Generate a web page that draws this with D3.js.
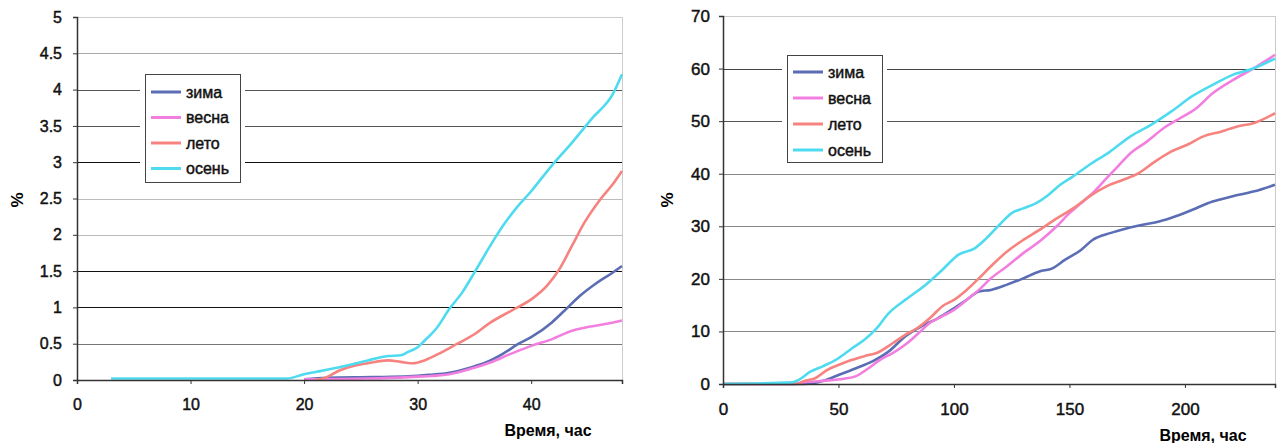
<!DOCTYPE html>
<html>
<head>
<meta charset="utf-8">
<script src="https://cdn.jsdelivr.net/npm/d3@7"></script>
<style>
  body { margin: 0; background: #fff; }
  svg { font-family: "Liberation Sans", Arial, sans-serif; }
</style>
</head>
<body>
<svg width="1281" height="443"></svg>
<script>
// seasons and colours
var seasons = ['зима', 'весна', 'лето', 'осень'];
var colors = ['#5b6db4', '#f27fe0', '#f6837f', '#4fdbef'];

// left chart: first 48 hours
var leftXTicks = [0, 10, 20, 30, 40];
var leftYTicks = [0, 0.5, 1, 1.5, 2, 2.5, 3, 3.5, 4, 4.5, 5];

var winterShortT = [20, 22, 26, 29.2, 31, 32.8, 34.6, 36, 37.5, 38.9, 40, 41.8, 42.9, 44.3, 45.8, 47.2, 48];
var winterShortV = [0.01, 0.03, 0.04, 0.05, 0.07, 0.1, 0.17, 0.24, 0.36, 0.5, 0.59, 0.79, 0.95, 1.16, 1.34, 1.48, 1.57];
var springShortT = [20, 25.6, 29.2, 32.8, 34.6, 36.4, 38.2, 40, 41.8, 43.6, 44.7, 46.5, 48];
var springShortV = [0.01, 0.02, 0.04, 0.08, 0.15, 0.24, 0.36, 0.47, 0.56, 0.68, 0.72, 0.77, 0.82];
var summerShortT = [21, 22, 23.1, 24.5, 25.6, 27.4, 28.5, 29.6, 30.6, 32.1, 33.5, 35, 36.4, 38.2, 40, 41.4, 42.5, 43.6, 44.7, 46.1, 47.2, 48];
var summerShortV = [0, 0.04, 0.13, 0.2, 0.23, 0.27, 0.25, 0.23, 0.27, 0.38, 0.5, 0.63, 0.79, 0.95, 1.11, 1.3, 1.53, 1.85, 2.17, 2.49, 2.7, 2.88];
var autumnShortT = [3, 18.5, 20, 21, 22, 23.8, 25.6, 27.4, 28.5, 29.2, 30, 30.6, 31.7, 32.8, 33.9, 35, 36.4, 37.5, 38.6, 40, 41.8, 43.6, 45.4, 47.2, 48];
var autumnShortV = [0.02, 0.02, 0.08, 0.11, 0.14, 0.2, 0.27, 0.33, 0.34, 0.39, 0.45, 0.54, 0.72, 0.98, 1.2, 1.48, 1.85, 2.12, 2.35, 2.6, 2.95, 3.27, 3.61, 3.94, 4.21];

// right chart: whole period
var rightXTicks = [0, 50, 100, 150, 200];
var rightYTicks = [0, 10, 20, 30, 40, 50, 60, 70];

var winterLongT = [0, 35, 43.4, 50.5, 57.6, 64.7, 71.8, 79, 86, 93, 100, 105.5, 110.8, 116, 123, 130, 137, 142.6, 148, 155, 160, 167.6, 174.7, 181.7, 188.8, 196, 203, 212, 220.7, 229.6, 239];
var winterLongV = [0, 0, 0.6, 1.8, 3, 4.3, 6.2, 9.1, 11, 12.5, 14.4, 16, 17.6, 17.9, 18.9, 20.1, 21.4, 22, 23.6, 25.5, 27.4, 28.7, 29.6, 30.3, 30.9, 31.9, 33.1, 34.7, 35.7, 36.6, 37.9];
var springLongT = [0, 30, 34.6, 43.4, 52.3, 57.6, 63, 68, 73.6, 79, 84, 89.5, 95, 100, 105.5, 110.8, 116, 123, 130, 137, 144.5, 150, 155, 160, 166, 171, 176.4, 183.5, 190.6, 197.7, 204.8, 212, 220.7, 229.6, 239];
var springLongV = [0, 0, 0.3, 0.6, 1.0, 1.5, 3, 4.6, 5.9, 7.5, 9.4, 11.6, 12.9, 14.1, 16, 17.9, 20.1, 22.4, 24.9, 27.1, 30, 32.5, 34.4, 36.3, 39.1, 41.4, 43.9, 46.1, 48.6, 50.5, 52.4, 55.3, 57.8, 60, 62.6];
var summerLongT = [0, 32, 34.6, 39.9, 45.2, 50.5, 55.9, 61.2, 66.5, 73.6, 79, 84, 89.5, 95, 100, 105.5, 110.8, 116, 123, 130, 137, 144.5, 151.6, 158.7, 166, 173, 180, 187, 194, 201, 208, 215.6, 222.7, 229.6, 239];
var summerLongV = [0, 0, 0.5, 1.1, 2.7, 3.7, 4.6, 5.3, 5.9, 7.8, 9.4, 10.6, 12.5, 14.8, 16, 17.9, 20.1, 22.4, 25.2, 27.4, 29.3, 31.5, 33.4, 35.7, 37.6, 38.8, 40.1, 42.3, 44.2, 45.5, 47.1, 48, 49, 49.6, 51.5];
var autumnLongT = [0, 30, 32.8, 38, 43.4, 50, 55.9, 61.2, 66.5, 71.8, 78.9, 87.8, 94.9, 102, 109, 114, 119.7, 125, 130, 135.6, 141, 146, 151.6, 158.7, 167.6, 176.4, 185.3, 194, 203, 212, 220.7, 229.6, 239];
var autumnLongV = [0, 0.3, 0.8, 2.4, 3.4, 4.9, 6.8, 8.4, 10.6, 13.5, 16, 18.9, 21.7, 24.6, 25.8, 27.7, 30.3, 32.5, 33.4, 34.4, 36, 37.9, 39.5, 41.7, 44.2, 47.1, 49.3, 51.8, 54.7, 56.9, 58.8, 60, 61.9];

// gridline tones (bottom to top)
var leftGridTones = ['#222', '#777', '#111', '#111', '#bbb', '#bbb', '#111', '#555', '#555', '#aaa', '#ccc'];
var rightGridTones = ['#222', '#888', '#888', '#888', '#888', '#555', '#444', '#ccc'];

var svg = d3.select('svg');

function zip(ts, vs) { return ts.map((t, i) => ({t: t, v: vs[i]})); }

// scanned text looks heavier than plain regular weight
function heavy(sel) {
  sel.attr('fill', '#111').attr('stroke', '#111').attr('stroke-width', 0.45);
}

function drawChart(cfg) {
  var x = d3.scaleLinear().domain(cfg.xDomain).range(cfg.xRange);
  var y = d3.scaleLinear().domain(cfg.yDomain).range(cfg.yRange);
  var g = svg.append('g');

  // gridlines
  g.selectAll('.grid').data(cfg.yTicks).enter().append('line')
    .attr('x1', cfg.xRange[0]).attr('x2', cfg.xRange[1])
    .attr('y1', d => Math.round(y(d)) + 0.5).attr('y2', d => Math.round(y(d)) + 0.5)
    .attr('stroke', (d, i) => cfg.gridTones[i])
    .attr('stroke-width', 1);

  // right border
  g.append('line')
    .attr('x1', cfg.xRange[1] + 0.5).attr('x2', cfg.xRange[1] + 0.5)
    .attr('y1', cfg.yRange[1]).attr('y2', cfg.yRange[0])
    .attr('stroke', '#ccc');

  // legend background breaks the gridlines
  var lg = cfg.legend;
  g.append('rect')
    .attr('x', lg.x - 5).attr('y', lg.y).attr('width', lg.w + 10).attr('height', lg.h)
    .attr('fill', '#fff');
  g.append('rect')
    .attr('x', lg.x + 0.5).attr('y', lg.y + 0.5).attr('width', lg.w).attr('height', lg.h)
    .attr('fill', '#fff').attr('stroke', '#444').attr('stroke-width', 1);

  var line = d3.line().x(d => x(d.t)).y(d => y(d.v)).curve(d3.curveMonotoneX);
  cfg.series.forEach((s, i) => {
    g.append('path')
      .datum(s)
      .attr('d', line)
      .attr('fill', 'none')
      .attr('stroke', colors[i])
      .attr('stroke-width', 2.6)
      .attr('stroke-linejoin', 'round');
  });

  // axes
  var xAxis = d3.axisBottom(x).tickValues(cfg.xTicks).tickSize(4).tickPadding(cfg.xPad).tickFormat(d3.format('d'));
  var yAxis = d3.axisLeft(y).tickValues(cfg.yTicks).tickSize(4).tickPadding(cfg.yPad).tickFormat(d => String(d));
  var gx = g.append('g').attr('transform', 'translate(0,' + cfg.yRange[0] + ')').call(xAxis);
  var gy = g.append('g').attr('transform', 'translate(' + cfg.xRange[0] + ',0)').call(yAxis);
  [gx, gy].forEach(a => {
    a.select('.domain').attr('stroke', '#333').attr('stroke-width', 1.5);
    a.selectAll('.tick line').attr('stroke', '#333');
    a.selectAll('.tick text').call(heavy).style('font-size', cfg.fontSize + 'px');
  });

  // legend entries
  seasons.forEach((name, i) => {
    var yy = lg.y + lg.first + i * lg.step;
    g.append('line')
      .attr('x1', lg.x + 6).attr('x2', lg.x + 36)
      .attr('y1', yy).attr('y2', yy)
      .attr('stroke', colors[i]).attr('stroke-width', 3);
    g.append('text')
      .attr('x', lg.x + 41).attr('y', yy)
      .attr('dy', '0.35em')
      .style('font-size', '16px')
      .call(heavy)
      .text(name);
  });

  // axis titles
  g.append('text')
    .attr('transform', 'translate(' + cfg.pctX + ',200) rotate(-90)')
    .attr('text-anchor', 'middle')
    .style('font-size', '17px').style('font-weight', 'bold')
    .text('%');
  g.append('text')
    .attr('x', cfg.titleX).attr('y', cfg.titleY)
    .attr('text-anchor', 'middle')
    .style('font-size', '16px').style('font-weight', 'bold')
    .text('Время, час');
}

drawChart({
  xDomain: [0, 48], xRange: [77, 622],
  yDomain: [0, 5], yRange: [380, 17],
  xTicks: leftXTicks, yTicks: leftYTicks, gridTones: leftGridTones,
  series: [zip(winterShortT, winterShortV), zip(springShortT, springShortV),
           zip(summerShortT, summerShortV), zip(autumnShortT, autumnShortV)],
  legend: {x: 145, y: 74, w: 95, h: 108, first: 18, step: 25.5},
  fontSize: 16, yPad: 11, xPad: 15,
  pctX: 23, titleX: 548, titleY: 436
});

drawChart({
  xDomain: [0, 239], xRange: [723, 1275],
  yDomain: [0, 70], yRange: [384, 16],
  xTicks: rightXTicks, yTicks: rightYTicks, gridTones: rightGridTones,
  series: [zip(winterLongT, winterLongV), zip(springLongT, springLongV),
           zip(summerLongT, summerLongV), zip(autumnLongT, autumnLongV)],
  legend: {x: 787, y: 55, w: 95, h: 107, first: 17, step: 26},
  fontSize: 17, yPad: 9, xPad: 15,
  pctX: 673, titleX: 1203, titleY: 441
});
</script>
</body>
</html>
